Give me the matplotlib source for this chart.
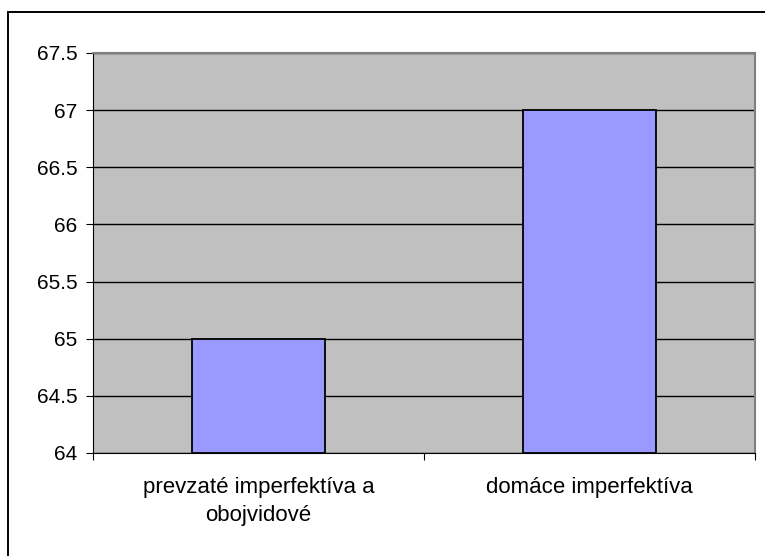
import matplotlib
matplotlib.use("Agg")
import matplotlib.pyplot as plt
from matplotlib.patches import Rectangle
from matplotlib.transforms import ScaledTranslation

categories = ["prevzaté imperfektíva a\nobojvidové", "domáce imperfektíva"]
values = [65, 67]
yticks = [64, 64.5, 65, 65.5, 66, 66.5, 67, 67.5]
ytick_labels = ["64", "64.5", "65", "65.5", "66", "66.5", "67", "67.5"]

W, H = 765, 556
fig = plt.figure(figsize=(W / 100, H / 100), dpi=100)
plt.rcParams['font.family'] = ['Liberation Sans', 'DejaVu Sans']

# outer chart border
fig.patches.append(Rectangle((8 / W, -0.05), 1.2, 1 - 12 / H + 0.05,
                             transform=fig.transFigure, fill=False,
                             edgecolor='black', linewidth=1.4))

left, right, top, bottom = 93, 755, 53, 453
ax = fig.add_axes([left / W, 1 - bottom / H, (right - left) / W, (bottom - top) / H])
ax.set_facecolor('#C0C0C0')
ax.set_xlim(0, 2)
ax.set_ylim(64, 67.5)
ax.set_axisbelow(True)
ax.yaxis.grid(True, color='black', linewidth=1)
x = [0.5, 1.5]
ax.bar(x, [v - 64 for v in values], bottom=64, width=0.40, color='#9999FF',
       edgecolor='black', linewidth=1.3, zorder=3)
ax.set_yticks(yticks)
ax.set_yticklabels(ytick_labels, fontsize=15)
ax.set_xticks([0, 1, 2])
ax.set_xticklabels([])
trans = ax.get_xaxis_transform() + ScaledTranslation(0, -17 / 72, fig.dpi_scale_trans)
for xi, lab in zip(x, categories):
    ax.text(xi, 0, lab, transform=trans, ha='center', va='top',
            multialignment='center', linespacing=1.45, fontsize=16)
ax.tick_params(axis='x', which='major', length=5, color='black', direction='out')
ax.tick_params(axis='y', length=5, color='black', direction='out', pad=6)
for s in ['top', 'right']:
    ax.spines[s].set_color('#808080')
    ax.spines[s].set_linewidth(1.5)
ax.spines['left'].set_color('black')
ax.spines['bottom'].set_color('black')

fig.savefig('out.png', dpi=100)
